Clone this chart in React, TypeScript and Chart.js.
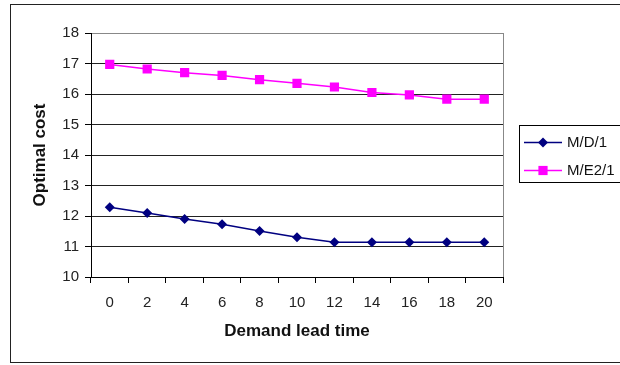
import React, { useEffect, useRef } from "react";
import { Chart, registerables } from "chart.js";
Chart.register(...registerables);

const categories = ["0", "2", "4", "6", "8", "10", "12", "14", "16", "18", "20"];
const mdValues = [12.29, 12.1, 11.9, 11.73, 11.51, 11.3, 11.14, 11.14, 11.14, 11.14, 11.14];
const meValues = [16.97, 16.82, 16.7, 16.61, 16.47, 16.35, 16.23, 16.05, 15.97, 15.83, 15.83];
const seriesNames = ["M/D/1", "M/E2/1"];
const yMin = 10;
const yMax = 18;

const FONT = "'Liberation Sans', Arial, sans-serif";

const framePlugin = {
  id: "frame",
  beforeDraw(chart: any) {
    const { ctx } = chart;
    ctx.save();
    ctx.fillStyle = "#fff";
    ctx.fillRect(0, 0, chart.width, chart.height);
    ctx.strokeStyle = "#222";
    ctx.lineWidth = 1;
    ctx.strokeRect(10.5, 4.5, 700, 358);
    ctx.restore();
  },
  afterDraw(chart: any) {
    const { ctx, chartArea } = chart;
    ctx.save();
    ctx.strokeStyle = "#888";
    ctx.lineWidth = 1;
    const rx = Math.round(chartArea.right) + 0.5;
    ctx.beginPath();
    ctx.moveTo(rx, chartArea.top);
    ctx.lineTo(rx, chartArea.bottom);
    ctx.stroke();

    // legend
    ctx.strokeStyle = "#000";
    ctx.strokeRect(519.5, 125.5, 140, 57);
    chart.data.datasets.forEach((ds: any, i: number) => {
      const y = 142.5 + i * 28;
      ctx.strokeStyle = ds.borderColor;
      ctx.lineWidth = 1.5;
      ctx.beginPath();
      ctx.moveTo(524, y);
      ctx.lineTo(562, y);
      ctx.stroke();
      ctx.fillStyle = ds.backgroundColor;
      if (ds.pointStyle === "rectRot") {
        const r = ds.pointRadius;
        ctx.beginPath();
        ctx.moveTo(543, y - r);
        ctx.lineTo(543 + r, y);
        ctx.lineTo(543, y + r);
        ctx.lineTo(543 - r, y);
        ctx.closePath();
        ctx.fill();
      } else {
        const s = ds.pointRadius * Math.SQRT1_2;
        ctx.fillRect(543 - s, y - s, 2 * s, 2 * s);
      }
      ctx.fillStyle = "#111";
      ctx.font = `15px ${FONT}`;
      ctx.textBaseline = "middle";
      ctx.textAlign = "left";
      ctx.fillText(ds.label, 567, y);
    });
    ctx.restore();
  },
};

export default function App() {
  const ref = useRef<HTMLCanvasElement | null>(null);
  useEffect(() => {
    if (!ref.current) return;
    const chart = new Chart(ref.current, {
      type: "line",
      data: {
        labels: categories,
        datasets: [
          {
            label: seriesNames[0],
            data: mdValues,
            borderColor: "#000080",
            backgroundColor: "#000080",
            borderWidth: 1.5,
            pointStyle: "rectRot",
            pointRadius: 5,
            pointBorderWidth: 0,
            tension: 0,
          },
          {
            label: seriesNames[1],
            data: meValues,
            borderColor: "#ff00ff",
            backgroundColor: "#ff00ff",
            borderWidth: 1.5,
            pointStyle: "rect",
            pointRadius: 6.5,
            pointBorderWidth: 0,
            tension: 0,
          },
        ],
      },
      plugins: [framePlugin],
      options: {
        responsive: false,
        animation: false,
        events: [],
        layout: { padding: { left: 26, top: 33, right: 117, bottom: 19 } },
        plugins: { legend: { display: false }, tooltip: { enabled: false } },
        scales: {
          x: {
            offset: true,
            afterFit: (s: any) => {
              s.height = 69;
            },
            grid: {
              offset: true,
              drawOnChartArea: false,
              drawTicks: true,
              tickLength: 6,
              color: "#000",
            },
            border: { display: true, color: "#000", width: 1 },
            ticks: {
              color: "#222",
              font: { family: FONT, size: 15 },
              padding: 11,
              maxRotation: 0,
            },
            title: {
              display: true,
              text: "Demand lead time",
              color: "#111",
              font: { family: FONT, size: 17, weight: "bold" },
              padding: { top: 4, bottom: 4 },
            },
          },
          y: {
            min: yMin,
            max: yMax,
            afterFit: (s: any) => {
              s.width = 65;
            },
            grid: {
              color: (ctx: any) => (ctx.tick && ctx.tick.value === yMax ? "#888" : "#222"),
              tickColor: "#000",
              tickLength: 6,
              drawTicks: true,
            },
            border: { display: true, color: "#000", width: 1 },
            ticks: {
              stepSize: 1,
              color: "#222",
              font: { family: FONT, size: 15 },
              padding: 6,
            },
            title: {
              display: true,
              text: "Optimal cost",
              color: "#111",
              font: { family: FONT, size: 17, weight: "bold" },
              padding: { top: 4, bottom: 4 },
            },
          },
        },
      },
    } as any);
    return () => chart.destroy();
  }, []);
  return (
    <div style={{ position: "fixed", left: 0, top: 0, width: 620, height: 365, overflow: "hidden", background: "#fff" }}>
      <canvas ref={ref} width={620} height={365} style={{ display: "block", width: 620, height: 365 }} />
    </div>
  );
}
